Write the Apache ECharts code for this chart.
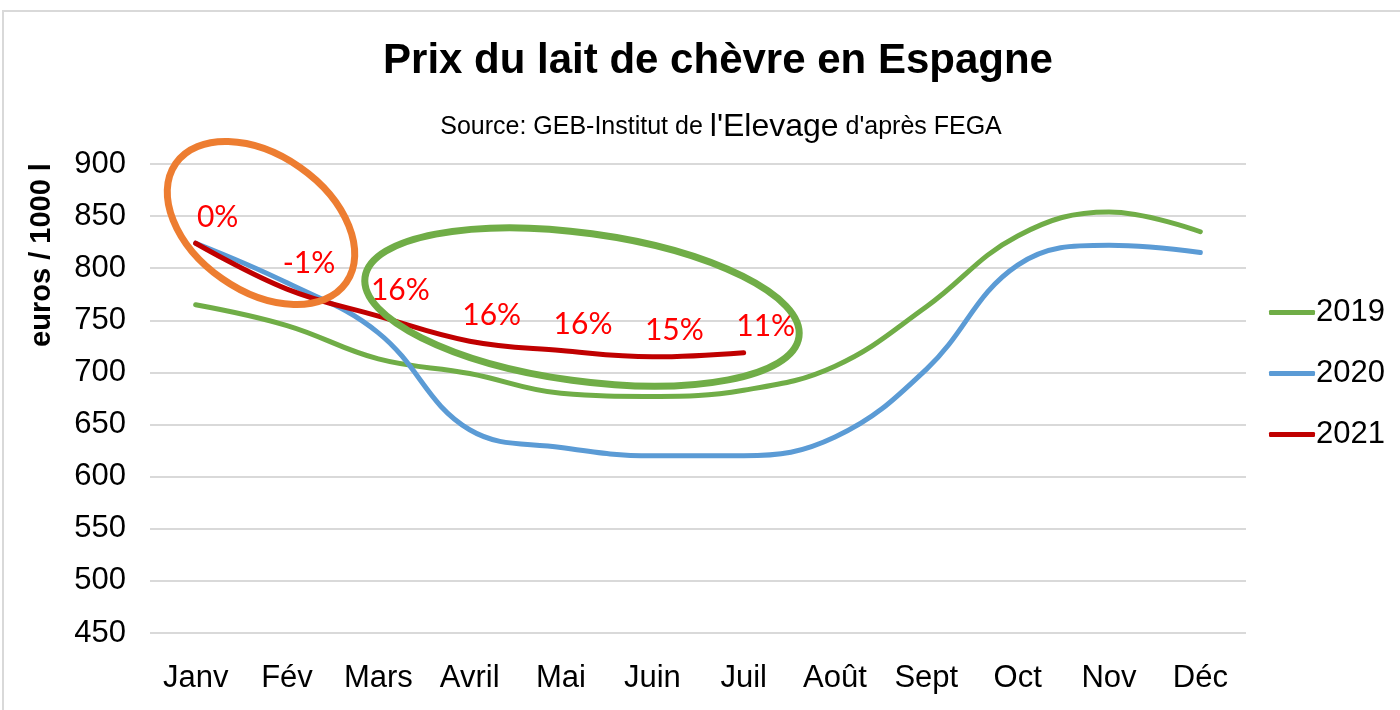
<!DOCTYPE html>
<html>
<head>
<meta charset="utf-8">
<script src="https://cdn.jsdelivr.net/npm/echarts@6/dist/echarts.min.js"></script>
<style>
  html, body { margin: 0; padding: 0; background: #fff; }
  #main { width: 1400px; height: 710px; }
</style>
</head>
<body>
<div id="main"></div>
<script>
// Prix du lait de chèvre en Espagne (euros / 1000 l)
const months = ['Janv', 'Fév', 'Mars', 'Avril', 'Mai', 'Juin', 'Juil', 'Août', 'Sept', 'Oct', 'Nov', 'Déc']
const prix2019 = [765, 745, 713, 699, 680, 677, 683, 706, 763, 831, 854, 835]
const prix2020 = [824, 786, 738, 645, 628, 620, 620, 638, 703, 803, 822, 815]
const prix2021 = [824, 780, 754, 730, 721, 715, 719]
const evol2021 = ['0%', '-1%', '16%', '16%', '16%', '15%', '11%']

const narrow = "'Liberation Sans Narrow', 'Arial Narrow', 'Liberation Sans', sans-serif"

let myChart = echarts.init(document.getElementById('main'))
let options = {
  backgroundColor: '#fff',
  animation: false,
  title: [{
    text: 'Prix du lait de chèvre en Espagne',
    left: 713,
    textAlign: 'center',
    top: 35,
    textStyle: { fontFamily: narrow, fontSize: 42, fontWeight: 'bold', color: '#000' }
  }, {
    text: 'Source: GEB-Institut de {b|l\'Elevage} d\'après FEGA',
    left: 716,
    textAlign: 'center',
    top: 106,
    textStyle: {
      fontFamily: narrow, fontSize: 25, fontWeight: 'normal', color: '#000',
      rich: { b: { fontFamily: narrow, fontSize: 32, color: '#000' } }
    }
  }],
  legend: {
    orient: 'vertical',
    left: 1264,
    top: 292,
    itemWidth: 46,
    itemHeight: 5,
    itemGap: 30,
    icon: 'roundRect',
    textStyle: { fontFamily: narrow, fontSize: 31, color: '#000', padding: [0, 0, 0, -4] },
    data: ['2019', '2020', '2021']
  },
  grid: { left: 150, right: 154, top: 164, bottom: 77 },
  xAxis: {
    type: 'category',
    data: months,
    boundaryGap: true,
    axisLine: { show: false },
    axisTick: { show: false },
    axisLabel: { fontFamily: narrow, fontSize: 31, color: '#000', margin: 30 }
  },
  yAxis: {
    type: 'value',
    min: 450,
    max: 900,
    interval: 50,
    axisLine: { show: false },
    axisTick: { show: false },
    axisLabel: { fontFamily: narrow, fontSize: 31, color: '#000', margin: 24 },
    splitLine: { lineStyle: { color: '#d9d9d9', width: 2 } }
  },
  series: [{
    name: '2019',
    type: 'line',
    data: prix2019,
    smooth: 0.4,
    symbol: 'none',
    color: '#70ad47',
    lineStyle: { width: 5, cap: 'round' }
  }, {
    name: '2020',
    type: 'line',
    data: prix2020,
    smooth: 0.4,
    symbol: 'none',
    color: '#5b9bd5',
    lineStyle: { width: 5, cap: 'round' }
  }, {
    name: '2021',
    type: 'line',
    data: prix2021,
    smooth: 0.4,
    symbol: 'circle',
    symbolSize: 0.1,
    showSymbol: true,
    color: '#c00000',
    lineStyle: { width: 5, cap: 'round' },
    label: {
      show: true,
      position: 'top',
      offset: [22, -6],
      formatter: p => evol2021[p.dataIndex],
      fontFamily: 'Lato, "Open Sans", sans-serif',
      fontSize: 30,
      color: '#ff0000'
    },
    z: 3
  }],
  graphic: [{
    type: 'rect',
    shape: { x: 3, y: 11, width: 1420, height: 720 },
    style: { fill: 'none', stroke: '#d9d9d9', lineWidth: 2 },
    silent: true,
    z: -10
  }, {
    type: 'text',
    x: 42, y: 255,
    rotation: Math.PI / 2,
    style: {
      text: 'euros / 1000 l',
      fontFamily: narrow, fontSize: 29, fontWeight: 'bold', fill: '#000',
      align: 'center', verticalAlign: 'middle'
    },
    silent: true
  }, {
    type: 'ellipse',
    x: 261, y: 223,
    rotation: -0.61,
    shape: { cx: 0, cy: 0, rx: 104, ry: 68 },
    style: { fill: 'none', stroke: '#ed7d31', lineWidth: 7 },
    silent: true,
    z: 10
  }, {
    type: 'ellipse',
    x: 582, y: 307,
    rotation: -0.136,
    shape: { cx: 0, cy: 0, rx: 219, ry: 74 },
    style: { fill: 'none', stroke: '#70ad47', lineWidth: 7 },
    silent: true,
    z: 10
  }]
}
myChart.setOption(options)
</script>
</body>
</html>
